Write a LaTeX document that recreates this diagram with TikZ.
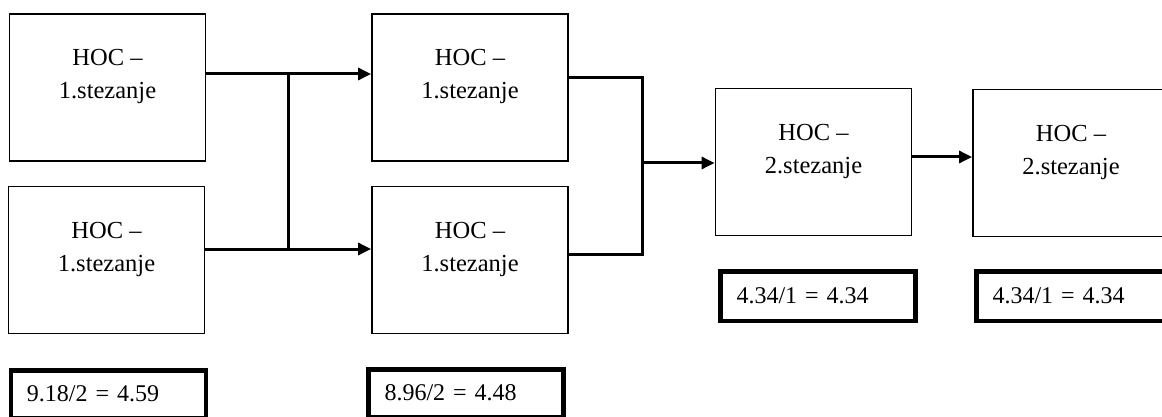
\documentclass[tikz,border=0pt]{standalone}
\usepackage{fontspec}
\setmainfont{Liberation Serif}
\usetikzlibrary{arrows.meta}
\begin{document}
\begin{tikzpicture}[x=1pt,y=-1pt,
  hoc/.style={draw, line width=1.8pt, minimum width=196pt, minimum height=147pt,
    inner sep=0pt, align=center, font=\fontsize{24.5}{33}\selectfont,
    text height=63pt, text depth=40pt},
  val/.style={draw, line width=4.5pt, text width=163pt, inner xsep=16pt,
    inner ysep=0pt, align=left, font=\fontsize{24}{28}\selectfont},
  conn/.style={line width=3pt},
  arr/.style={conn, -{Triangle[length=13pt,width=12pt]}}]
\useasboundingbox (0,0) rectangle (1162,417);
\fill[white] (0,0) rectangle (1162,417);
\clip (0,0) rectangle (1162,417);

% main boxes
\node[hoc] (A) at (107.5,87.5) {HOC –\\1.stezanje};
\node[hoc] (B) at (106.5,260) {HOC –\\1.stezanje};
\node[hoc] (C) at (470,87.5) {HOC –\\1.stezanje};
\node[hoc] (D) at (470,260) {HOC –\\1.stezanje};
\node[hoc] (E) at (813.5,162) {HOC –\\2.stezanje};
\node[hoc] (F) at (1071,163) {HOC –\\2.stezanje};

% value boxes
\node[val, minimum height=47.5pt] (V1) at (108.5,394) {9.18/2 = 4.59};
\node[val, minimum height=47.5pt] (V2) at (466,393) {8.96/2 = 4.48};
\node[val, minimum height=49.5pt] (V3) at (818,296) {4.34/1 = 4.34};
\node[val, minimum height=49.5pt] (V4) at (1074,296) {4.34/1 = 4.34};

% junction coordinates
\coordinate (j1) at (288,74);
\coordinate (j2) at (288,249);
\coordinate (k1) at (642,78);
\coordinate (k2) at (642,254);
\coordinate (k3) at (642,163);

% connectors, first stage
\draw[arr] ([yshift=13.5pt]A.east) -- ([yshift=13.5pt]C.west);
\draw[arr] ([yshift=11pt]B.east) -- ([yshift=11pt]D.west);
\draw[conn] (j1) -- (j2);

% connectors, second stage
\draw[conn] ([yshift=9.5pt]C.east) -- (k1) -- (k2) -- ([yshift=6pt]D.east);
\draw[arr] (k3) -- ([yshift=-1pt]E.west);
\draw[arr] ([yshift=5pt]E.east) -- ([yshift=6pt]F.west);
\end{tikzpicture}
\end{document}
